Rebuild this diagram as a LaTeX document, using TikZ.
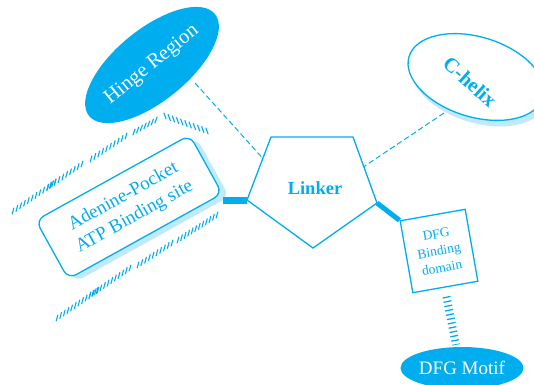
\documentclass[tikz,border=0pt]{standalone}
\usepackage{fontspec}
\setmainfont{Liberation Serif}
\usetikzlibrary{shapes.geometric,calc}

\definecolor{kcyan}{RGB}{0,174,239}
\definecolor{kshade}{RGB}{192,233,250}

% a row of short ticks between two coordinates: from, to, count, tilt
\newcommand\hatchrow[4]{%
	\foreach \i in {0,...,#3}
		\draw[hatch] ($(#1)!\i/#3!(#2)$) ++({0-(#4)},3.3) -- ++({2*(#4)},-6.6);
}

\begin{document}
\begin{tikzpicture}[x=1pt,y=-1pt,
		blob/.style={ellipse, fill=kcyan, inner sep=0pt, text=white},
		ring/.style={ellipse, draw=kcyan, fill=white, line width=1.3pt, inner sep=0pt},
		box/.style={draw=kcyan, fill=white, line width=1.3pt, inner sep=0pt, text=kcyan, align=center},
		link/.style={kcyan, line width=1pt, dash pattern=on 5.5pt off 3pt},
		bond/.style={kcyan, line width=#1},
		spring/.style={kcyan, line width=8pt, dash pattern=on 1.3pt off 3.1pt},
		hatch/.style={kcyan, line width=1.1pt}]
	\useasboundingbox (0,0) rectangle (534,384);

	% hinge and c-helix
	\node[blob, minimum width=144pt, minimum height=72pt, rotate=39,
		font=\fontsize{20.5}{24}\selectfont] (hinge) at (152,65) {Hinge Region};
	\node[ellipse, fill=kshade, minimum width=140pt, minimum height=80pt, rotate=-17] at (479,83) {};
	\node[ring, minimum width=140pt, minimum height=80pt, rotate=-17] (chelix) at (476,77) {};
	\node[text=kcyan, rotate=-42, font=\bfseries\fontsize{20.5}{24}\selectfont] (chelixtxt) at (470,82) {C-helix};

	% linker pentagon
	\coordinate (lk1) at (271,137);
	\coordinate (lk2) at (353,137);
	\coordinate (lk3) at (377,203);
	\coordinate (lk4) at (313,248);
	\coordinate (lk5) at (247,200);
	\draw[kcyan, line width=1.3pt] (lk1) -- (lk2) -- (lk3) -- (lk4) -- (lk5) -- cycle;
	\node[text=kcyan, font=\bfseries\fontsize{18.5}{22}\selectfont] (linker) at (315,188) {Linker};

	% adenine pocket
	\node[fill=kshade, rounded corners=9pt, minimum width=176pt, minimum height=67pt, rotate=29] at (136,210) {};
	\node[box, rounded corners=9pt, minimum width=176pt, minimum height=67pt, rotate=29,
		font=\fontsize{19}{23}\selectfont] (adenine) at (129,207) {Adenine-Pocket\\ATP Binding site};

	% dfg domain and motif
	\node[box, minimum width=66pt, minimum height=73pt, rotate=10,
		font=\fontsize{13.5}{17}\selectfont] (dfgbox) at (439,251) {DFG\\Binding\\domain};
	\node[blob, minimum width=123pt, minimum height=42pt,
		font=\fontsize{19}{23}\selectfont] (motif) at (462,368) {DFG Motif};

	% connections
	\coordinate (hingeport) at (195,83);
	\coordinate (chport) at (444,113);
	\draw[link] (hingeport) -- ($(lk1)!0.34!(lk5)$);
	\draw[link] (chport) -- ($(lk2)!0.45!(lk3)$);
	\draw[bond=7pt] (adenine.south east |- lk5) -- (lk5);
	\draw[bond=5pt] (lk3) -- (dfgbox.north west);
	\draw[spring] ($(dfgbox.south)+(1,9)$) -- ($(motif.north)+(-6,-2)$);

	% hatched rows round the pocket
	\coordinate (ua) at (13,211);  \coordinate (ub) at (82,164);
	\coordinate (uc) at (91,159);  \coordinate (ud) at (126,136);
	\coordinate (ue) at (134,132); \coordinate (uf) at (156,120);
	\coordinate (ug) at (165,116); \coordinate (uh) at (207,131);
	\coordinate (ux) at (48,187);  \coordinate (uy) at (55,182);
	\coordinate (la) at (57,318);  \coordinate (lb) at (130,268);
	\coordinate (lc) at (138,265); \coordinate (ld) at (172,243);
	\coordinate (le) at (178,240); \coordinate (lf) at (217,215);
	\coordinate (lx) at (90,295);  \coordinate (ly) at (98,290);
	\hatchrow{ua}{ub}{18}{0.9}
	\hatchrow{uc}{ud}{9}{0.9}
	\hatchrow{ue}{uf}{6}{1.2}
	\hatchrow{ug}{uh}{10}{-1.2}
	\hatchrow{ux}{uy}{3}{0.9}
	\hatchrow{la}{lb}{20}{0.9}
	\hatchrow{lc}{ld}{9}{0.9}
	\hatchrow{le}{lf}{11}{0.9}
	\hatchrow{lx}{ly}{3}{0.9}
\end{tikzpicture}
\end{document}
